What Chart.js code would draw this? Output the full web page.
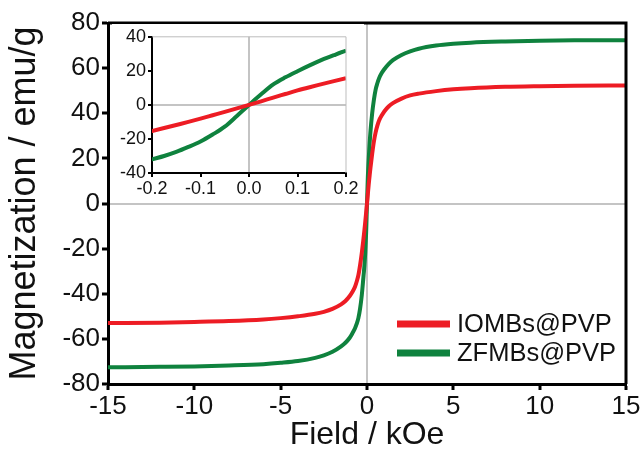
<!DOCTYPE html>
<html>
<head>
<meta charset="utf-8">
<script src="https://cdn.jsdelivr.net/npm/chart.js@4"></script>
<style>
  html, body { margin: 0; padding: 0; background: #fff; }
  #wrap { position: relative; width: 642px; height: 460px; }
  #main-chart { position: absolute; left: 0; top: 0; }
  #inset-chart { position: absolute; left: 112px; top: 24px; background: #fff; }
</style>
</head>
<body>
<div id="wrap">
  <canvas id="main-chart" width="642" height="460"></canvas>
  <canvas id="inset-chart" width="252" height="173"></canvas>
</div>
<script>
// field in kOe, magnetization in emu/g
const fieldKOe = [-15, -12, -10, -8, -6, -5, -4, -3, -2.5, -2, -1.5, -1.25, -1, -0.85, -0.7, -0.6, -0.5, -0.4, -0.3,
  -0.2, -0.175, -0.15, -0.125, -0.1, -0.075, -0.05, -0.025,
  0, 0.025, 0.05, 0.075, 0.1, 0.125, 0.15, 0.175, 0.2,
  0.3, 0.4, 0.5, 0.6, 0.7, 0.85, 1, 1.25, 1.5, 2, 2.5, 3, 4, 5, 6, 8, 10, 12, 15];
const iombsMag = [-53.0, -52.8, -52.5, -52.1, -51.4, -50.8, -50.0, -48.9, -48.0, -46.7, -44.7, -43.2, -41.0, -39.2, -37.0, -34.7, -31.8, -27.3, -21.8,
  -15.3, -13.6, -11.8, -10.0, -8.1, -6.1, -4.1, -2.0,
  0, 2.1, 4.3, 6.4, 8.5, 10.4, 12.2, 14.0, 15.7,
  22.0, 27.5, 31.5, 34.5, 36.8, 39.0, 40.8, 43.0, 44.5, 46.5, 47.9, 48.7, 49.8, 50.6, 51.1, 51.7, 52.0, 52.2, 52.3];
const zfmbsMag = [-72.6, -72.4, -72.2, -71.8, -71.2, -70.6, -69.8, -68.4, -67.3, -65.7, -63.3, -61.7, -59.5, -57.6, -55.4, -53.4, -50.8, -46.6, -40.5,
  -32.0, -30.0, -27.6, -24.7, -21.5, -17.4, -12.8, -6.5,
  0, 6.2, 12.0, 16.2, 19.8, 23.2, 26.4, 29.2, 31.8,
  40.0, 46.0, 50.5, 53.3, 55.5, 57.8, 59.5, 61.8, 63.5, 65.8, 67.4, 68.6, 70.0, 70.8, 71.3, 71.8, 72.1, 72.3, 72.4];

const seriesNames = ['IOMBs@PVP', 'ZFMBs@PVP'];
const seriesColors = ['#ed1c24', '#0f823e'];

const mainXTicks = [-15, 15, 5];    // min, max, step
const mainYTicks = [-80, 80, 20];
const insetXTicks = [-0.2, 0.2, 0.1];
const insetYTicks = [-40, 40, 20];

const FONT = "'Liberation Sans', Arial, sans-serif";
const ZERO_GRAY = '#c4c4c4';

function toPoints(ys) {
  return fieldKOe.map((x, i) => ({ x: x, y: ys[i] }));
}

function makeDatasets(width) {
  return [iombsMag, zfmbsMag].map((ys, i) => ({
    label: seriesNames[i],
    data: toPoints(ys),
    borderColor: seriesColors[i],
    borderWidth: width,
    pointRadius: 0,
    cubicInterpolationMode: 'monotone',
    fill: false
  }));
}

// grid only at zero, tick marks everywhere
function zeroGrid(lineW, tickLen, tickW, tickColor) {
  return {
    color: c => (c.tick && c.tick.value === 0 ? ZERO_GRAY : 'rgba(0,0,0,0)'),
    lineWidth: lineW,
    drawOnChartArea: true,
    drawTicks: true,
    tickLength: tickLen,
    tickWidth: tickW,
    tickColor: tickColor
  };
}

// closes the box on top and right
const frame = {
  id: 'frame',
  afterDatasetsDraw(chart, args, opts) {
    const { ctx, chartArea: a } = chart;
    ctx.save();
    ctx.strokeStyle = opts.color;
    ctx.lineWidth = opts.width;
    ctx.beginPath();
    ctx.moveTo(a.left, a.top);
    ctx.lineTo(a.right, a.top);
    ctx.lineTo(a.right, a.bottom);
    ctx.stroke();
    ctx.restore();
  }
};

// legend placed inside the plot, lower right
const innerLegend = {
  id: 'innerLegend',
  afterDraw(chart, args, opts) {
    if (!opts.show) return;
    const ctx = chart.ctx;
    ctx.save();
    ctx.font = '25.5px ' + FONT;
    ctx.textBaseline = 'middle';
    chart.data.datasets.forEach((ds, i) => {
      const y = opts.y + i * opts.gap;
      ctx.strokeStyle = ds.borderColor;
      ctx.lineWidth = 7;
      ctx.beginPath();
      ctx.moveTo(opts.x, y);
      ctx.lineTo(opts.x + 53, y);
      ctx.stroke();
      ctx.fillStyle = '#111';
      ctx.fillText(ds.label, opts.x + 60, y + 1);
    });
    ctx.restore();
  }
};

new Chart(document.getElementById('main-chart'), {
  type: 'line',
  data: { datasets: makeDatasets(4) },
  plugins: [frame, innerLegend],
  options: {
    responsive: false,
    animation: false,
    layout: { padding: { top: 23, right: 16, left: 0, bottom: 0 } },
    plugins: {
      legend: { display: false },
      tooltip: { enabled: false },
      frame: { color: '#000', width: 3 },
      innerLegend: { show: true, x: 397, y: 324, gap: 29 }
    },
    scales: {
      x: {
        type: 'linear',
        min: mainXTicks[0],
        max: mainXTicks[1],
        afterFit: s => { s.height = 76; },
        border: { color: '#000', width: 3 },
        grid: zeroGrid(2, 6, 3, '#000'),
        ticks: {
          stepSize: mainXTicks[2],
          color: '#111',
          padding: 1,
          maxRotation: 0,
          font: { family: FONT, size: 26 }
        },
        title: {
          display: true,
          text: 'Field / kOe',
          color: '#111',
          padding: { top: 0, bottom: 6 },
          font: { family: FONT, size: 32 }
        }
      },
      y: {
        type: 'linear',
        min: mainYTicks[0],
        max: mainYTicks[1],
        afterFit: s => { s.width = 108; },
        border: { color: '#000', width: 3 },
        grid: zeroGrid(2, 6, 3, '#000'),
        ticks: {
          stepSize: mainYTicks[2],
          color: '#111',
          padding: 2,
          font: { family: FONT, size: 26 }
        },
        title: {
          display: true,
          text: 'Magnetization / emu/g',
          color: '#111',
          padding: { top: 3, bottom: 0 },
          font: { family: FONT, size: 36 }
        }
      }
    }
  }
});

new Chart(document.getElementById('inset-chart'), {
  type: 'line',
  data: { datasets: makeDatasets(4) },
  plugins: [frame],
  options: {
    responsive: false,
    animation: false,
    layout: { padding: { top: 12, right: 18, left: 0, bottom: 0 } },
    plugins: {
      legend: { display: false },
      tooltip: { enabled: false },
      frame: { color: '#bdbdbd', width: 1 },
      innerLegend: { show: false }
    },
    scales: {
      x: {
        type: 'linear',
        min: insetXTicks[0],
        max: insetXTicks[1],
        afterFit: s => { s.height = 24; },
        border: { color: '#000', width: 2 },
        grid: zeroGrid(2, 4, 2, '#000'),
        ticks: {
          stepSize: insetXTicks[2],
          color: '#111',
          padding: 1,
          maxRotation: 0,
          font: { family: FONT, size: 18 },
          callback: v => v.toFixed(1)
        }
      },
      y: {
        type: 'linear',
        min: insetYTicks[0],
        max: insetYTicks[1],
        afterFit: s => { s.width = 40; },
        border: { color: '#000', width: 2 },
        grid: zeroGrid(2, 4, 2, '#000'),
        ticks: {
          stepSize: insetYTicks[2],
          color: '#111',
          padding: 2,
          font: { family: FONT, size: 18 }
        }
      }
    }
  }
});
</script>
</body>
</html>
